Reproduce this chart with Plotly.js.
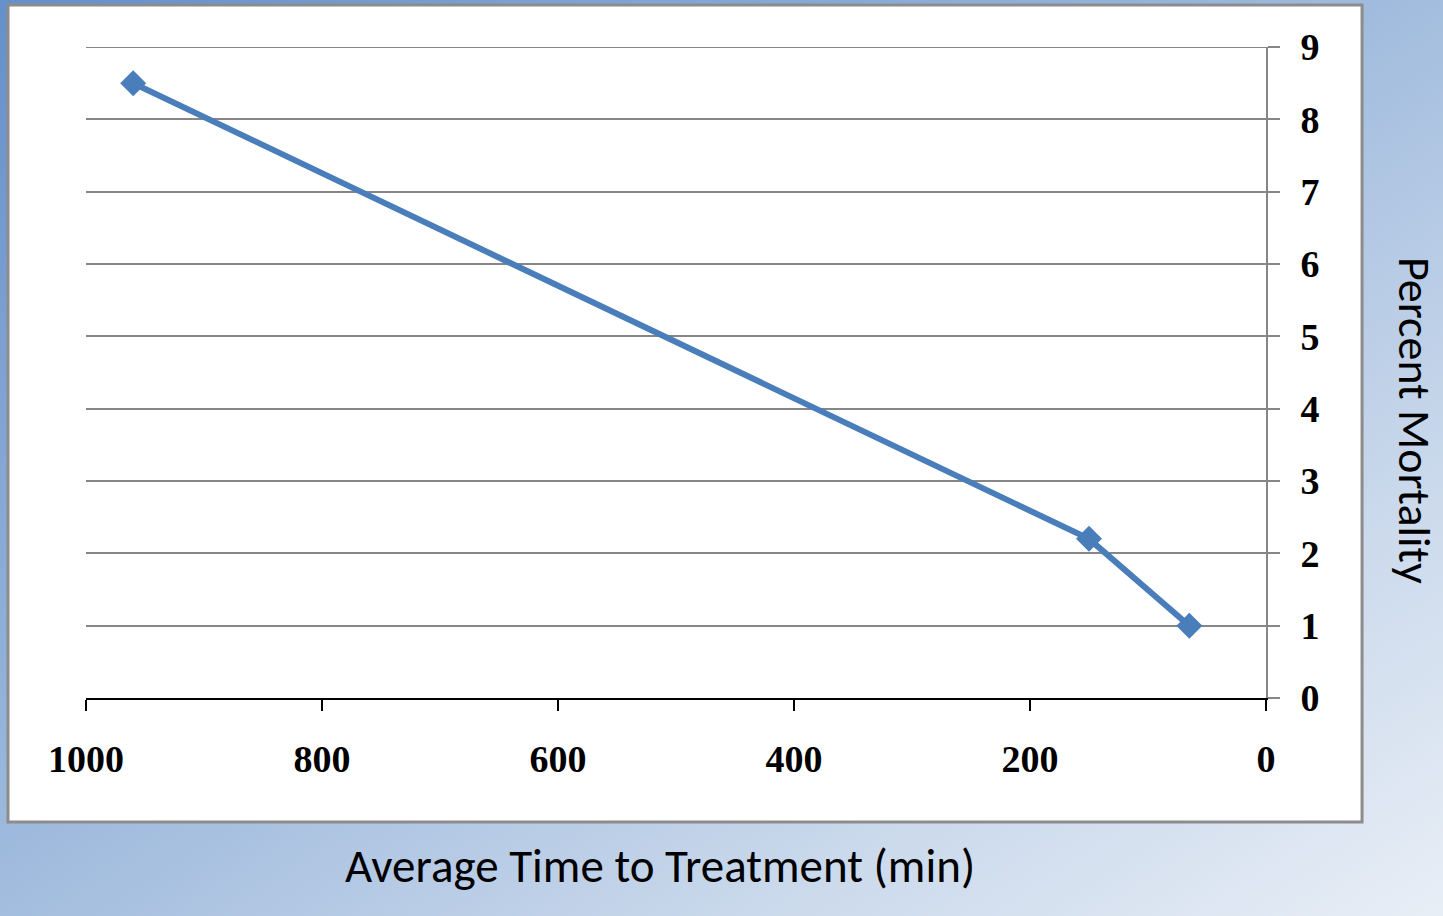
<!DOCTYPE html>
<html>
<head>
<meta charset="utf-8">
<script src="https://cdn.plot.ly/plotly-3.0.1.min.js"></script>
<style>
  html, body { margin: 0; padding: 0; width: 1443px; height: 916px; overflow: hidden; }
  body { background: linear-gradient(to bottom right, #6590ca 0%, #9cb8dc 45%, #c9d8eb 75%, #e8eef6 100%); }
  #chart { width: 1443px; height: 916px; }
</style>
</head>
<body>
<div id="chart"></div>
<script>
// Data
const timeToTreatment = [960, 150, 65];      // Average Time to Treatment (min)
const percentMortality = [8.5, 2.2, 1.0];    // Percent Mortality
const xTickValues = [1000, 800, 600, 400, 200, 0];
const yTickValues = [0, 1, 2, 3, 4, 5, 6, 7, 8, 9];
const xTitle = 'Average Time to Treatment (min)';
const yTitle = 'Percent Mortality';

const trace = {
  x: timeToTreatment,
  y: percentMortality,
  type: 'scatter',
  mode: 'lines+markers',
  line: { color: '#4a7ebb', width: 6 },
  marker: { symbol: 'diamond', size: 20, color: '#4a7ebb' },
  hoverinfo: 'skip'
};

const tickFont = { family: '"Liberation Serif", "DejaVu Serif", serif', size: 38, color: '#000', weight: 'bold' };
const yMax = Math.max(...yTickValues);

const layout = {
  width: 1443,
  height: 916,
  margin: { l: 86, r: 177, t: 47, b: 218 },
  paper_bgcolor: 'rgba(0,0,0,0)',
  plot_bgcolor: 'rgba(0,0,0,0)',
  showlegend: false,
  xaxis: {
    range: [1000, 0],
    tickvals: xTickValues,
    ticktext: xTickValues.map(String),
    showgrid: false,
    zeroline: false,
    showline: true,
    linecolor: '#000',
    linewidth: 2,
    ticks: 'outside',
    ticklen: 11,
    tickwidth: 2,
    tickcolor: '#000',
    tickfont: tickFont,
    ticklabelstandoff: 15,
    fixedrange: true
  },
  yaxis: {
    side: 'right',
    range: [0, yMax],
    tickvals: yTickValues,
    ticktext: yTickValues.map(String),
    showgrid: true,
    gridcolor: '#868686',
    gridwidth: 2,
    zeroline: false,
    showline: true,
    linecolor: '#868686',
    linewidth: 2,
    ticks: 'outside',
    ticklen: 12,
    tickwidth: 2,
    tickcolor: '#868686',
    tickfont: tickFont,
    ticklabelstandoff: 13,
    fixedrange: true
  },
  shapes: [
    {
      type: 'rect', xref: 'paper', yref: 'paper', layer: 'below',
      x0: -0.0661, x1: 1.0814, y0: -0.1905, y1: 1.0645,
      fillcolor: '#ffffff',
      line: { color: '#8c8c8c', width: 3 }
    },
    {
      // top gridline (Plotly hides the gridline lying on the plot edge)
      type: 'line', xref: 'paper', yref: 'y', layer: 'below',
      x0: 0, x1: 1, y0: yMax, y1: yMax,
      line: { color: '#868686', width: 2 }
    }
  ],
  annotations: [
    {
      text: xTitle, xref: 'paper', yref: 'paper',
      x: (660 - 86) / 1180, y: (698 - 866) / 651,
      xanchor: 'center', yanchor: 'middle', showarrow: false,
      font: { family: 'Carlito, "Open Sans", "Noto Sans", sans-serif', size: 47, color: '#000' }
    },
    {
      text: yTitle, xref: 'paper', yref: 'paper',
      x: (1415 - 86) / 1180, y: (698 - 420) / 651,
      xanchor: 'center', yanchor: 'middle', showarrow: false, textangle: 90,
      font: { family: 'Carlito, "Open Sans", "Noto Sans", sans-serif', size: 46, color: '#000' }
    }
  ]
};

Plotly.newPlot('chart', [trace], layout, { staticPlot: true, displayModeBar: false });
</script>
</body>
</html>
